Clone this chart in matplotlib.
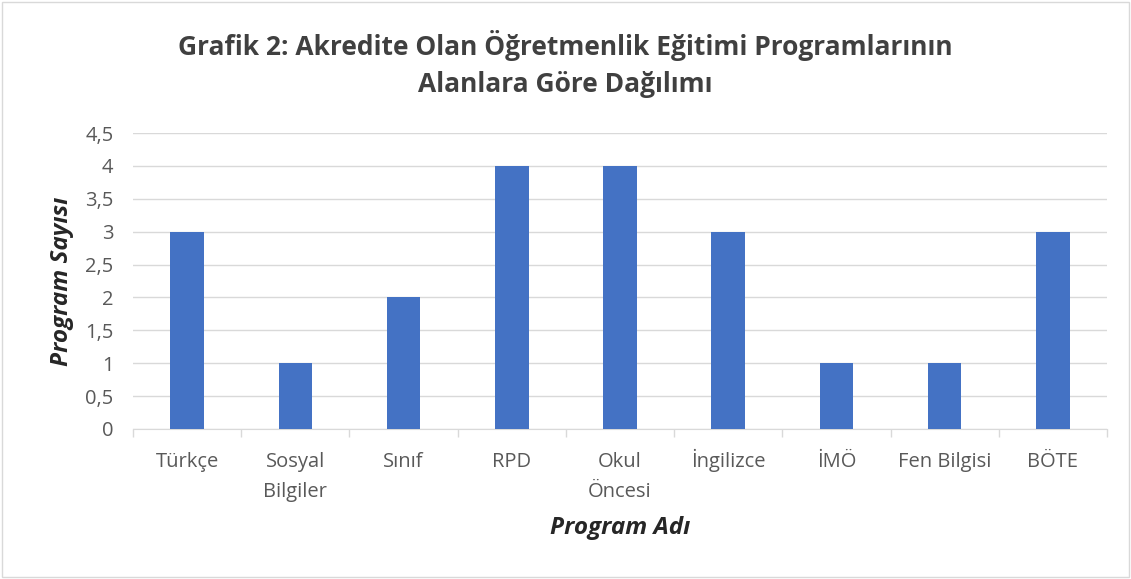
import matplotlib
matplotlib.use("Agg")
import matplotlib.pyplot as plt
from matplotlib.patches import Rectangle
import numpy as np

categories = ["Türkçe", "Sosyal\nBilgiler", "Sınıf", "RPD", "Okul\nÖncesi",
              "İngilizce", "İMÖ", "Fen Bilgisi", "BÖTE"]
values = [3, 1, 2, 4, 4, 3, 1, 1, 3]
yticks = [0, 0.5, 1, 1.5, 2, 2.5, 3, 3.5, 4, 4.5]
ytick_labels = ["0", "0,5", "1", "1,5", "2", "2,5", "3", "3,5", "4", "4,5"]
title = "Grafik 2: Akredite Olan Öğretmenlik Eğitimi Programlarının\nAlanlara Göre Dağılımı"
xlabel = "Program Adı"
ylabel = "Program Sayısı"

plt.rcParams['font.family'] = ['Open Sans', 'DejaVu Sans']

fig = plt.figure(figsize=(11.31, 5.79), dpi=100)
ax = fig.add_axes([133/1131, 1-429/579, (1107-133)/1131, (429-133)/579])

x = np.arange(len(categories))
ax.bar(x, values, width=0.31, color="#4472C4", zorder=3)

ax.set_xlim(-0.5, len(categories)-0.5)
ax.set_ylim(0, 4.5)
ax.set_yticks(yticks)
ax.set_yticklabels(ytick_labels, fontsize=14.5, color="#595959")
ax.set_xticks(x)
ax.set_xticklabels([""] * len(categories))
ax.tick_params(axis='y', length=0, pad=14)
ax.tick_params(axis='x', which='major', length=0)
ax.set_xticks(np.arange(-0.5, len(categories)), minor=True)
ax.tick_params(axis='x', which='minor', length=6, color="#d9d9d9", width=1)

# category labels, lines aligned on baselines
for i, cat in enumerate(categories):
    for j, line in enumerate(cat.split("\n")):
        ax.annotate(line, xy=(x[i], 0), xycoords=('data', 'axes fraction'),
                    xytext=(0, -38 - 30 * j), textcoords='offset pixels',
                    ha='center', va='baseline', fontsize=14.5, color="#595959",
                    annotation_clip=False)

ax.grid(axis='y', color="#d9d9d9", linewidth=1, zorder=0)
for s in ['top', 'right', 'left']:
    ax.spines[s].set_visible(False)
ax.spines['bottom'].set_color("#d9d9d9")

ax.set_xlabel(xlabel, fontsize=17.5, fontweight='bold', fontstyle='italic', color="#262626")
ax.xaxis.set_label_coords(0.5, (429 - 528) / 296)
ax.xaxis.label.set_va('center')
ax.set_ylabel(ylabel, fontsize=17.5, fontweight='bold', fontstyle='italic', color="#262626", labelpad=8)

fig.text(565/1131, 1-64/579, title, ha='center', va='center', fontsize=19,
         fontweight='bold', color="#404040", linespacing=1.45)

fig.patches.append(Rectangle((0.002, 0.003), 0.996, 0.994, transform=fig.transFigure,
                             fill=False, edgecolor="#d9d9d9", linewidth=1))

fig.savefig("out.png", dpi=100)
